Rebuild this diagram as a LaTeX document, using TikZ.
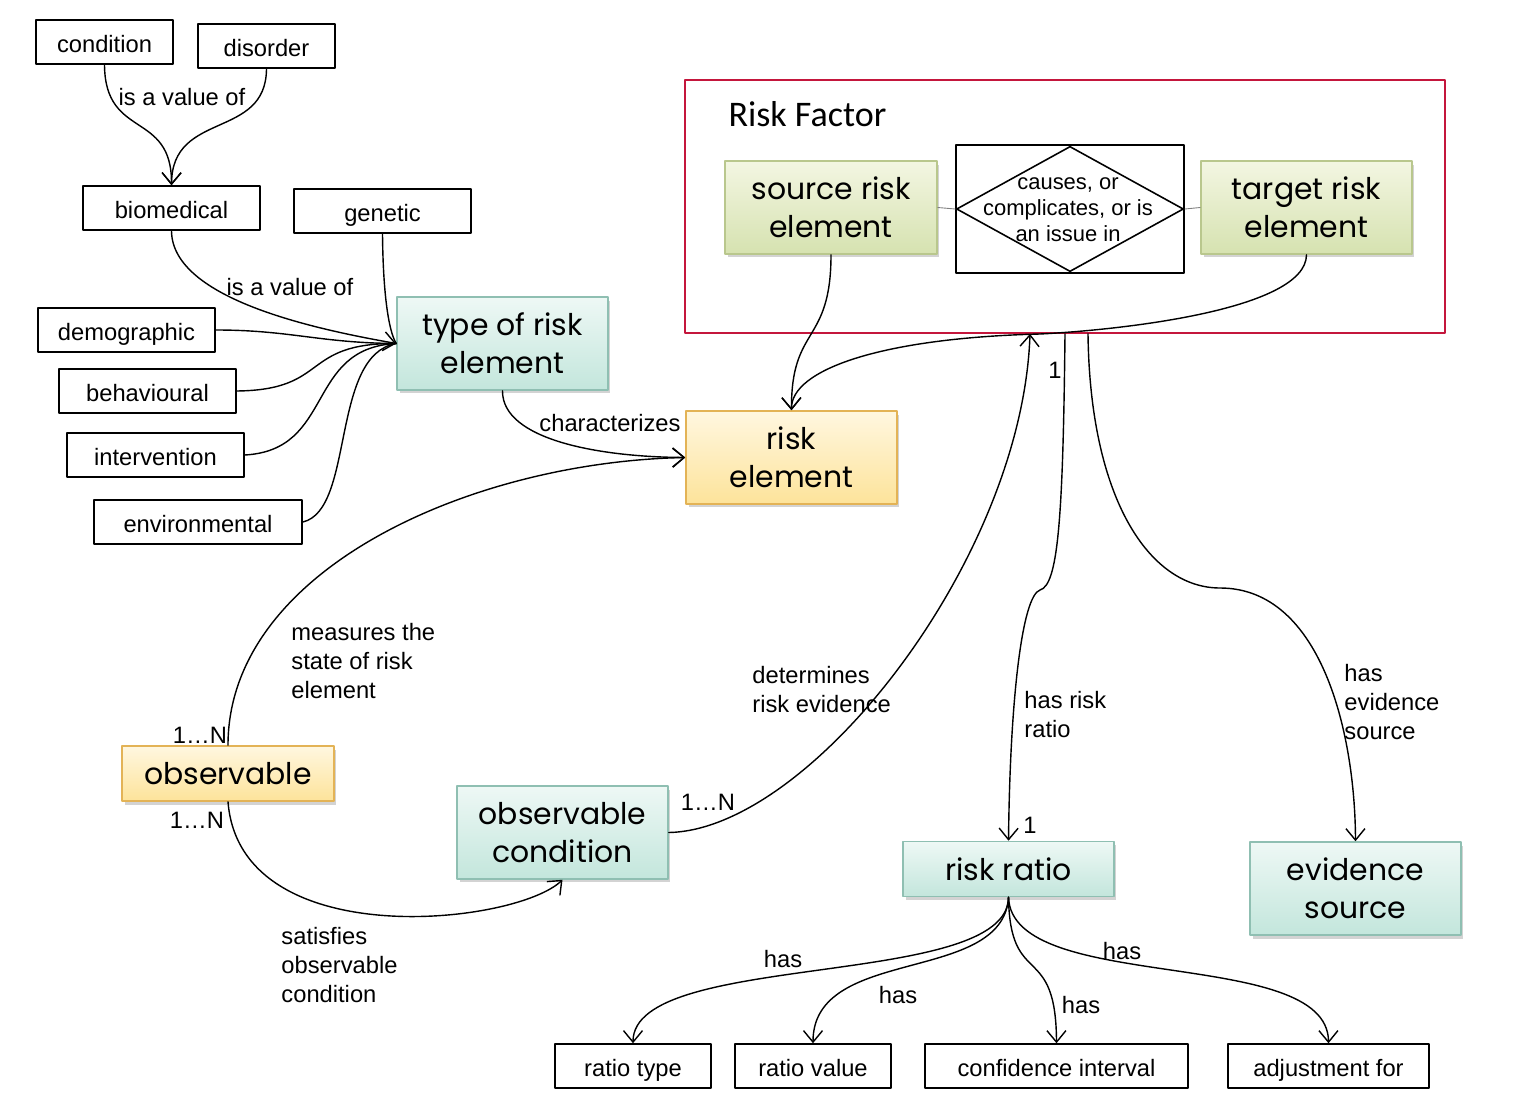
\documentclass[tikz,border=0pt]{standalone}
\usepackage{fontspec}
\setmainfont{Liberation Sans}
\newfontfamily\handfont{Poppins}
\newfontfamily\titlefont{Carlito}
\usetikzlibrary{shapes.geometric,shadows,arrows.meta}
\definecolor{tealtop}{HTML}{EEF8F5}
\definecolor{tealbot}{HTML}{C3E6DC}
\definecolor{tealedge}{HTML}{8FBFB2}
\definecolor{yeltop}{HTML}{FFF7E0}
\definecolor{yelbot}{HTML}{FDE39A}
\definecolor{yeledge}{HTML}{E3B356}
\definecolor{grntop}{HTML}{F3F6E2}
\definecolor{grnbot}{HTML}{D6E2B0}
\definecolor{grnedge}{HTML}{B9C78D}
\definecolor{rfred}{HTML}{C4163C}
\begin{document}
\begin{tikzpicture}[x=0.02cm, y=-0.02cm, line join=round, line cap=round, line width=0.8pt,
  >={Straight Barb[length=2.3mm,width=3.8mm]},
  lbl/.style={font=\fontsize{13.5}{16.5}\selectfont, align=left, inner sep=1pt},
  val/.style={draw, line width=0.9pt, minimum height=0.88cm, inner sep=2pt, text height=13pt, text depth=1pt,
    font=\fontsize{13.5}{16}\selectfont},
  ent/.style={draw, line width=0.9pt, minimum width=4.22cm, align=center, inner sep=2pt,
    font=\handfont\fontsize{17}{21.6}\selectfont,
    drop shadow={shadow xshift=0.05cm, shadow yshift=-0.07cm, opacity=0.35}},
  tealbox/.style={ent, draw=tealedge, top color=tealtop, bottom color=tealbot},
  yelbox/.style={ent, draw=yeledge, top color=yeltop, bottom color=yelbot},
  grnbox/.style={ent, draw=grnedge, top color=grntop, bottom color=grnbot}]
\useasboundingbox (0,0) rectangle (1514,1108);

\node[draw=rfred, line width=1pt, minimum width=15.2cm, minimum height=5.06cm] (rf) at (1065,206.5) {};
\node[anchor=west, font=\titlefont\fontsize{20.5}{24}\selectfont] (rftitle) at (722,114) {Risk Factor};

\node[val, minimum width=2.74cm] (cond) at (104.5,42) {condition};
\node[val, minimum width=2.74cm] (dis) at (266.5,46) {disorder};
\node[val, minimum width=3.54cm] (bio) at (171.5,208) {biomedical};
\node[val, minimum width=3.54cm] (gen) at (382.5,211) {genetic};
\node[val, minimum width=3.54cm] (demo) at (126.5,330) {demographic};
\node[val, minimum width=3.54cm] (beh) at (147.5,391) {behavioural};
\node[val, minimum width=3.54cm] (int) at (155.5,455) {intervention};
\node[val, minimum width=4.16cm] (env) at (198,522) {environmental};
\node[val, minimum width=3.12cm] (rt) at (633,1066) {ratio type};
\node[val, minimum width=3.12cm] (rv) at (813,1066) {ratio value};
\node[val, minimum width=5.26cm] (ci) at (1056.5,1066) {confidence interval};
\node[val, minimum width=4.02cm] (af) at (1328.5,1066) {adjustment for};

\node[tealbox, minimum height=1.86cm] (tre) at (502.5,343.5) {type of risk\\element};
\node[yelbox, minimum height=1.86cm] (re) at (791.5,457.5) {risk\\element};
\node[yelbox, minimum height=1.1cm, minimum width=4.24cm] (obs) at (228,773.5) {observable};
\node[tealbox, minimum height=1.86cm] (oc) at (562.5,832.5) {observable\\condition};
\node[tealbox, minimum height=1.1cm] (rr) at (1008.5,869) {risk ratio};
\node[tealbox, minimum height=1.86cm] (es) at (1355.5,888.5) {evidence\\source};
\node[grnbox, minimum height=1.86cm, minimum width=4.24cm] (src) at (831,207.5) {source risk\\element};
\node[grnbox, minimum height=1.86cm] (tgt) at (1306.5,207.5) {target risk\\element};

\node[draw, line width=1.1pt, minimum width=4.56cm, minimum height=2.56cm] (relbox) at (1070,209) {};
\draw[line width=0.9pt] ([xshift=1pt]relbox.west) -- ([yshift=-1.5pt]relbox.north) -- ([xshift=-1pt]relbox.east)
  -- ([yshift=1.5pt]relbox.south) -- cycle;
\node[align=center, inner sep=0pt, font=\fontsize{12.5}{14.8}\selectfont] (rel) at (1068,210) {causes, or\\complicates, or is\\an issue in};
\draw[gray, line width=0.5pt] (src.east) -- (relbox.west);
\draw[gray, line width=0.5pt] (relbox.east) -- (tgt.west);

\draw[->] (cond.south) .. controls (105,140) and (172,110) .. (bio.north);
\draw[->] (dis.south) .. controls (266,140) and (172,110) .. (bio.north);
\node[lbl] (lvala) at (182,97) {is a value of};

\draw[->] (bio.south) .. controls (172,300) and (320,330) .. (tre.west);
\draw (gen.south) .. controls (383,290) and (388,330) .. (tre.west);
\draw (demo.east) .. controls (290,330) and (320,343) .. (tre.west);
\draw (beh.east) .. controls (330,390) and (300,343) .. (tre.west);
\draw (int.east) .. controls (335,450) and (305,348) .. (tre.west);
\draw (env.east) .. controls (355,510) and (330,355) .. (tre.west);
\node[lbl] (lvalb) at (290,287) {is a value of};

\draw[->] (tre.south) .. controls (502,440) and (600,457) .. (re.west);
\node[lbl] (lchar) at (610,423) {characterizes};

\draw[->] (src.south) .. controls (831,345) and (791,325) .. (re.north);
\draw[->] (tgt.south) .. controls (1306,310) and (1120,330) .. (1040,334) .. controls (880,338) and (791,370) .. (re.north);

\draw[->] (obs.north) .. controls (228,570) and (470,462) .. (re.west);
\node[lbl, anchor=west] (lmeas) at (289,661) {measures the\\state of risk\\element};
\node[lbl] (nobsa) at (200,735) {1…N};

\draw[->] (obs.south) .. controls (240,955) and (515,925) .. (oc.south);
\node[lbl] (nobsb) at (197,820) {1…N};
\node[lbl, anchor=west] (lsat) at (279,965) {satisfies\\observable\\condition};

\draw[->] (oc.east) .. controls (810,830) and (1022,560) .. ([xshift=-0.7cm]rf.south);
\node[lbl] (noc) at (708,802) {1…N};
\node[lbl, anchor=west] (ldet) at (750,690) {determines\\risk evidence};

\draw[->] (rf.south) .. controls (1063,520) and (1058,585) .. (1040,590) .. controls (1022,596) and (1010,700) .. (rr.north);
\node[lbl] (nrfa) at (1055,370) {1};
\node[lbl] (nrra) at (1030,825) {1};
\node[lbl, anchor=west] (lhrr) at (1022,715) {has risk\\ratio};

\draw[->] ([xshift=0.46cm]rf.south) .. controls (1090,500) and (1150,588) .. (1220,588) .. controls (1320,588) and (1355,730) .. (es.north);
\node[lbl, anchor=west] (lhes) at (1342,702) {has\\evidence\\source};

\draw[->] (rr.south) .. controls (1008,990) and (633,950) .. (rt.north);
\draw[->] (rr.south) .. controls (1003,985) and (813,945) .. (rv.north);
\draw[->] (rr.south) .. controls (1010,990) and (1056,940) .. (ci.north);
\draw[->] (rr.south) .. controls (1012,995) and (1328,945) .. (af.north);
\node[lbl] (lhasa) at (783,959) {has};
\node[lbl] (lhasb) at (898,995) {has};
\node[lbl] (lhasc) at (1081,1005) {has};
\node[lbl] (lhasd) at (1122,951) {has};
\end{tikzpicture}
\end{document}
